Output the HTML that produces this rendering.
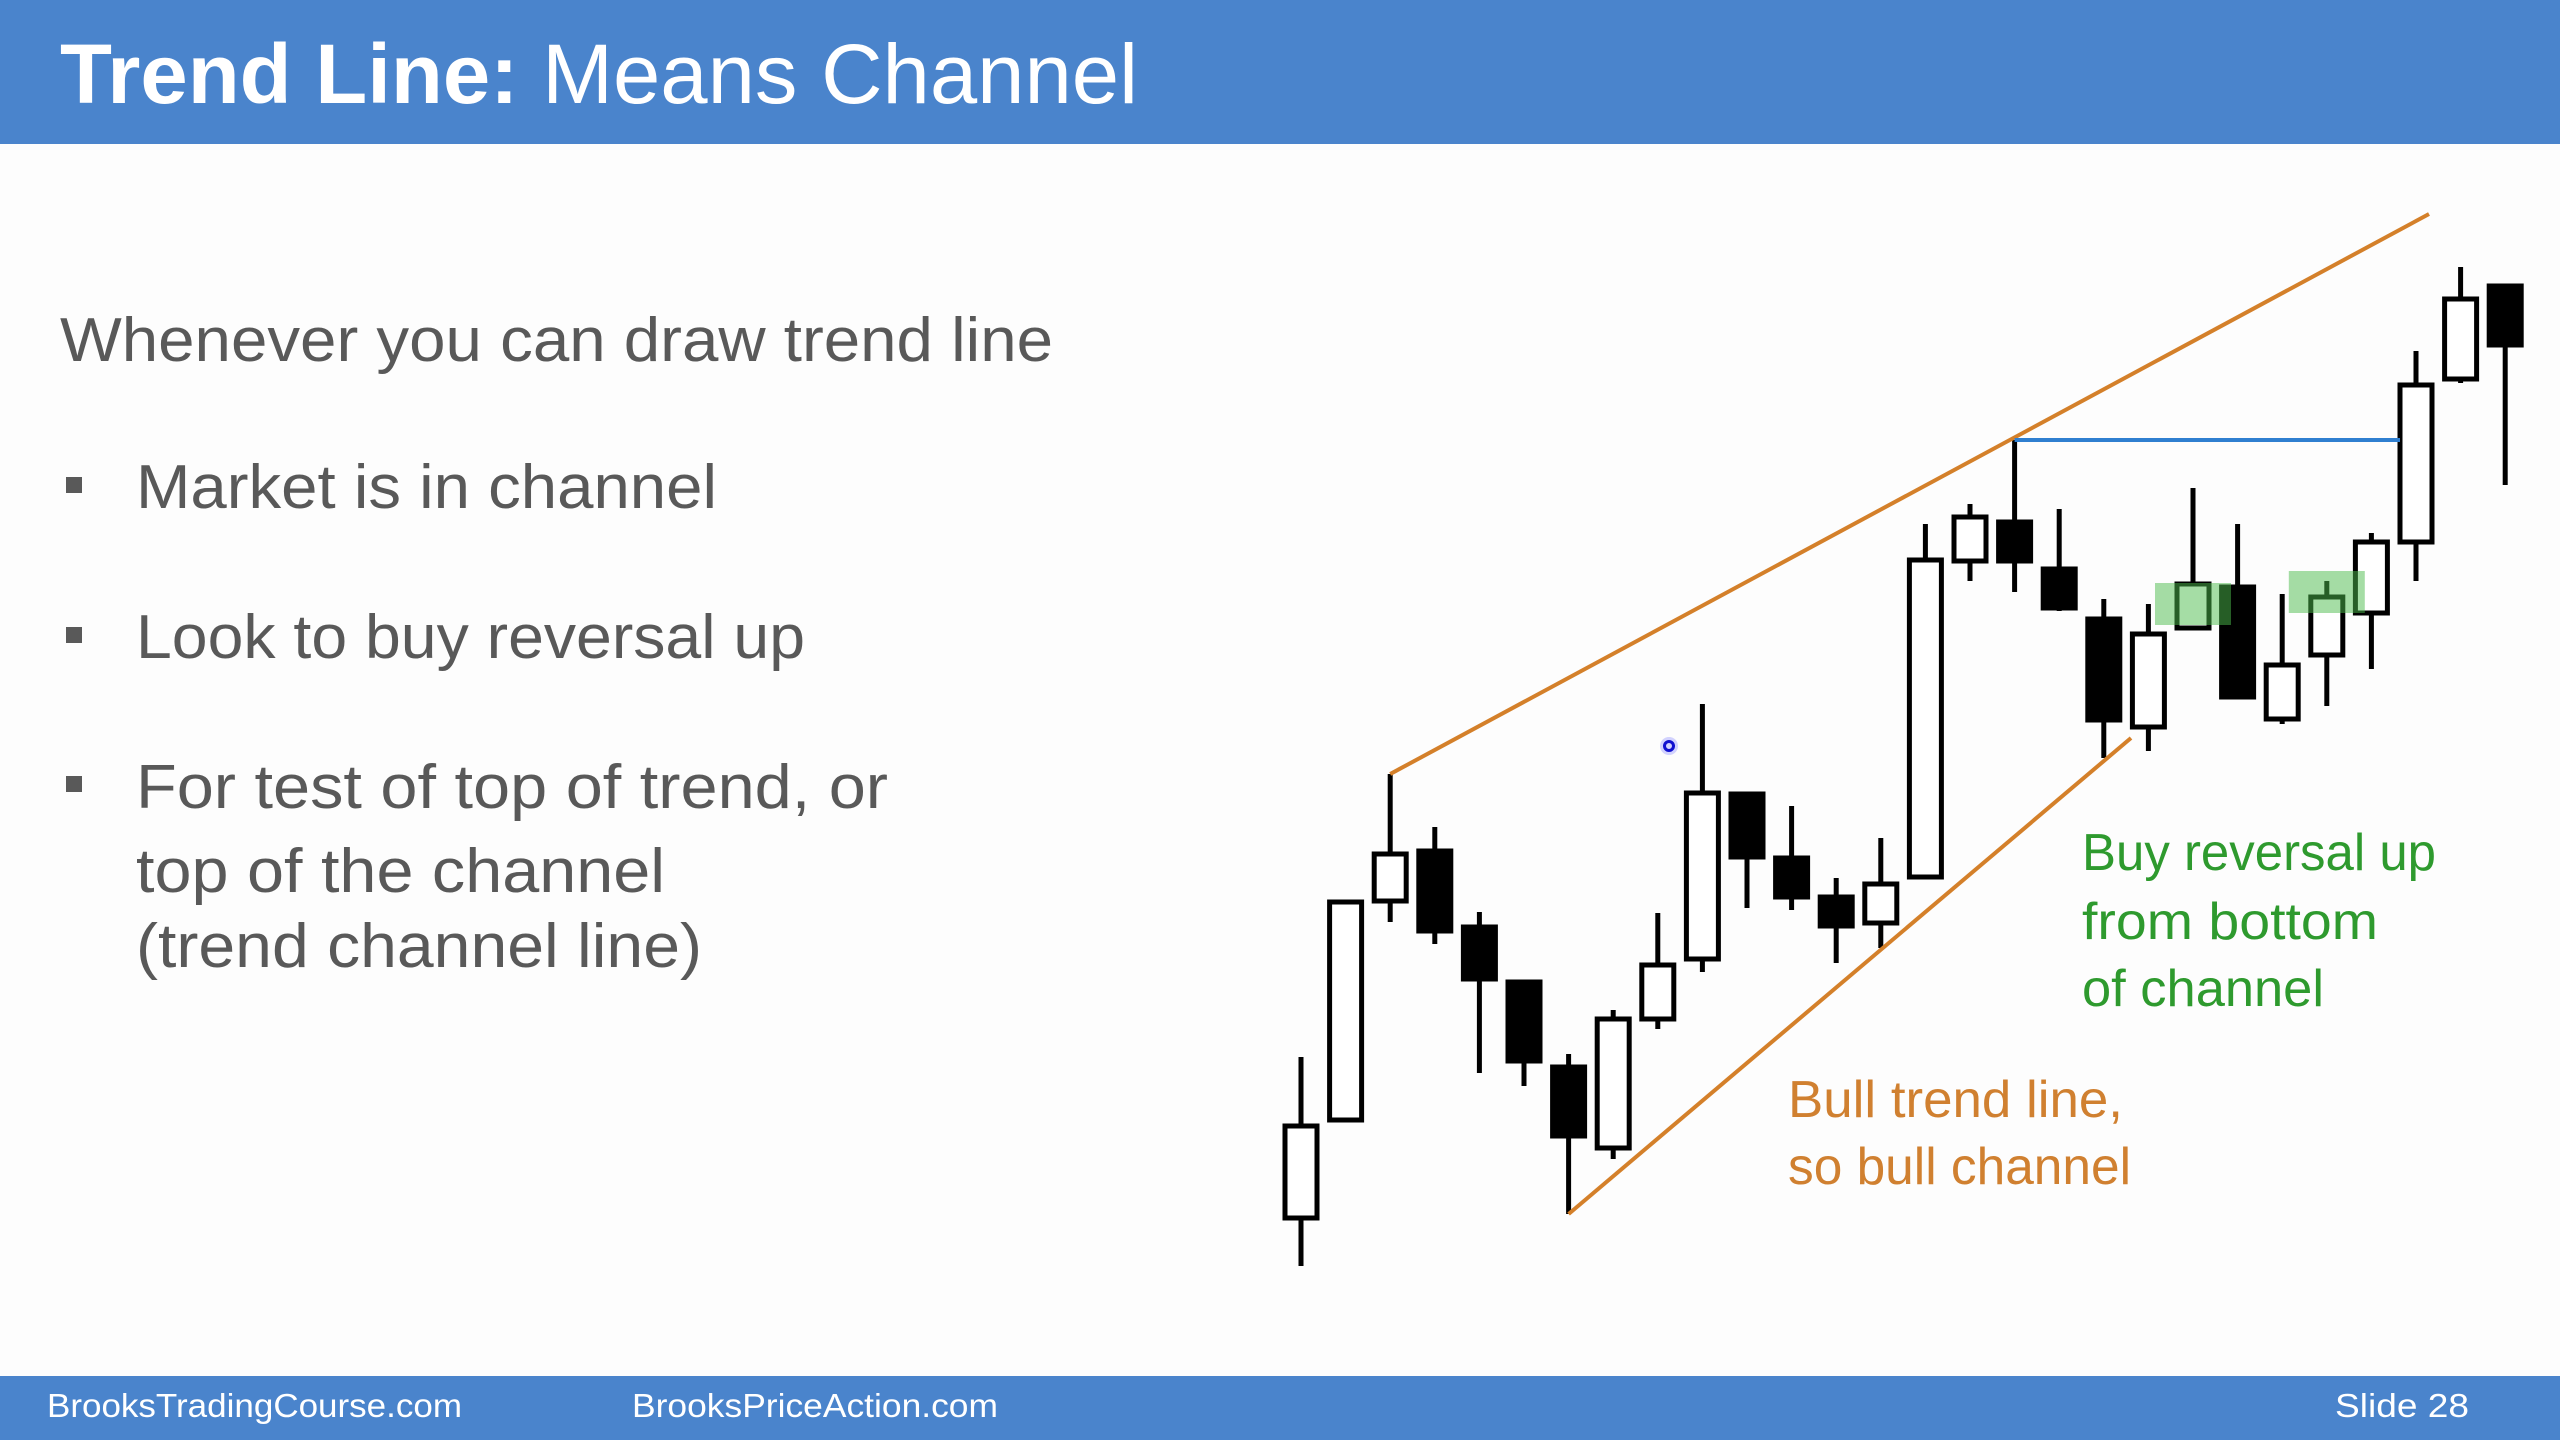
<!DOCTYPE html>
<html><head><meta charset="utf-8"><style>
html,body{margin:0;padding:0;background:#fdfdfd;}
svg{display:block;}
</style></head><body>
<svg id="s" width="2560" height="1440" xmlns="http://www.w3.org/2000/svg">
<rect x="0" y="0" width="2560" height="1440" fill="#fdfdfd"/>
<rect x="0" y="0" width="2560" height="144" fill="#4a84cc"/>
<text x="60" y="103" font-family="Liberation Sans, sans-serif" font-size="84" fill="#fff" textLength="1078" lengthAdjust="spacingAndGlyphs"><tspan font-weight="bold">Trend Line:</tspan> Means Channel</text>
<g font-family="Liberation Sans, sans-serif" fill="#595959" font-size="62">
<text x="60" y="361" textLength="993" lengthAdjust="spacingAndGlyphs">Whenever you can draw trend line</text>
<rect x="66" y="477" width="16" height="16"/>
<text x="136" y="508" textLength="581" lengthAdjust="spacingAndGlyphs">Market is in channel</text>
<rect x="66" y="627" width="16" height="16"/>
<text x="136" y="658" textLength="669" lengthAdjust="spacingAndGlyphs">Look to buy reversal up</text>
<rect x="66" y="776" width="16" height="16"/>
<text x="136" y="808" textLength="752" lengthAdjust="spacingAndGlyphs">For test of top of trend, or</text>
<text x="136" y="892" textLength="529" lengthAdjust="spacingAndGlyphs">top of the channel</text>
<text x="136" y="967" textLength="566" lengthAdjust="spacingAndGlyphs">(trend channel line)</text>
</g>
<g id="chart"></g>
<g font-family="Liberation Sans, sans-serif" font-size="52">
<text x="2082" y="870" fill="#2e9a2e" textLength="354" lengthAdjust="spacingAndGlyphs">Buy reversal up</text>
<text x="2082" y="939" fill="#2e9a2e" textLength="296" lengthAdjust="spacingAndGlyphs">from bottom</text>
<text x="2082" y="1006" fill="#2e9a2e" textLength="242" lengthAdjust="spacingAndGlyphs">of channel</text>
<text x="1788" y="1117" fill="#d08030" textLength="335" lengthAdjust="spacingAndGlyphs">Bull trend line,</text>
<text x="1788" y="1184" fill="#d08030" textLength="343" lengthAdjust="spacingAndGlyphs">so bull channel</text>
</g>
<circle cx="1669" cy="746" r="9" fill="#8080ff" opacity="0.35"/>
<circle cx="1669" cy="746" r="4.5" fill="none" stroke="#1010d0" stroke-width="3"/>
<rect x="0" y="1376" width="2560" height="64" fill="#4a84cc"/>
<g font-family="Liberation Sans, sans-serif" font-size="33" fill="#fff">
<text x="47" y="1417" textLength="415" lengthAdjust="spacingAndGlyphs">BrooksTradingCourse.com</text>
<text x="632" y="1417" textLength="366" lengthAdjust="spacingAndGlyphs">BrooksPriceAction.com</text>
<text x="2335" y="1417" textLength="134" lengthAdjust="spacingAndGlyphs">Slide  28</text>
</g>
</svg>
<script>
// prices expressed as (1300 - screen y) units
const opens  = [82,180,399,449,373,318,233,152,281,341,506,442,403,377,423,739,778,731,681,573,672,713,581,645,687,758,921,1014];
const closes = [174,398,446,369,321,239,164,281,335,507,443,403,374,416,740,783,739,692,580,666,716,603,635,703,758,915,1001,955];
const highs  = [243,400,526,473,388,320,246,290,387,596,508,494,422,462,776,796,860,791,701,696,812,776,706,719,767,949,1033,1014];
const lows   = [34,180,378,356,227,214,86,141,271,328,392,390,337,352,423,719,708,689,542,549,672,603,576,594,631,719,917,815];
const hlIdx = [20, 23];
const hlTop = [717, 729];
const hx = 1301, dx = 44.6;
function xScale(i){ return hx + i*dx; }
function yScale(p){ return 1300 - p; }
const NS = "http://www.w3.org/2000/svg";
const g = document.getElementById('chart');
function mk(tag, attrs){ const e=document.createElementNS(NS,tag); for(const k in attrs) e.setAttribute(k,attrs[k]); g.appendChild(e); return e; }
for (let i=0;i<opens.length;i++){
  const x = xScale(i);
  const w = mk('line',{x1:x, x2:x, y1:yScale(highs[i]), y2:yScale(lows[i]), stroke:'#000', 'stroke-width':5});
  
  
  const bull = closes[i] >= opens[i];
  const t = Math.max(opens[i], closes[i]), b = Math.min(opens[i], closes[i]);
  const r = mk('rect',{x:x-16, y:yScale(t), width:32, height:Math.max(2,t-b), fill: bull?'#fff':'#000', stroke:'#000', 'stroke-width':5});
  
  
}
hlIdx.forEach(function(i, k){
  const r = mk('rect',{x:xScale(i)-38, y:yScale(hlTop[k]), width:76, height:42, fill:'#4cbc4c', opacity:0.5});
  
  
});
const upper = mk('line',{x1:xScale(2), y1:yScale(highs[2]), x2:2429, y2:214, stroke:'#d4802a', 'stroke-width':4});


const lower = mk('line',{x1:xScale(6), y1:yScale(lows[6]), x2:2131, y2:738, stroke:'#d4802a', 'stroke-width':4});


const blue = mk('line',{x1:xScale(16), y1:yScale(highs[16]), x2:xScale(25)-16, y2:yScale(highs[16]), stroke:'#2f7fd0', 'stroke-width':4});


</script>
</body></html>
